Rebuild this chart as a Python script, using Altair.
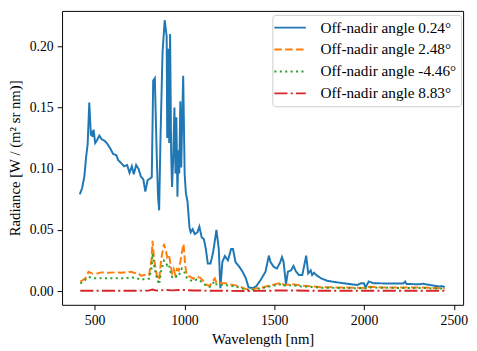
import altair as alt
import pandas as pd

labels = ["Off-nadir angle 0.24°", "Off-nadir angle 2.48°",
          "Off-nadir angle -4.46°", "Off-nadir angle 8.83°"]
colors = ["#1f77b4", "#ff7f0e", "#2ca02c", "#d62728"]
dashes = [[1, 0], [7.7, 3.3], [2.1, 3.4], [13.3, 3.3, 2.1, 3.3]]

wl_blue = [417, 430, 443, 452, 461, 470, 479, 484, 488, 494, 503, 512, 526, 539, 554, 567, 585,
           603, 621, 631, 645, 663, 681, 694, 707, 718, 731, 744, 758, 771, 782, 795, 809, 818,
           826, 835, 846, 853, 859, 867, 878, 890, 901, 904, 910, 915, 920, 926, 931, 937, 944,
           950, 955, 961, 966, 971, 977, 982, 988, 993, 1001, 1008, 1017, 1028, 1035, 1046, 1057,
           1072, 1083, 1096, 1108, 1119, 1130, 1145, 1160, 1178, 1191, 1200, 1211, 1225, 1242,
           1260, 1270, 1284, 1302, 1324, 1342, 1357, 1382, 1400, 1424, 1451, 1470, 1479, 1497,
           1515, 1534, 1543, 1552, 1565, 1576, 1594, 1607, 1620, 1638, 1656, 1667, 1678, 1689,
           1703, 1711, 1722, 1734, 1761, 1798, 1871, 1962, 1984, 1999, 2008, 2026, 2053, 2145,
           2218, 2229, 2236, 2309, 2327, 2382, 2418, 2436, 2449]
rad_blue = [0.079, 0.084, 0.094, 0.109, 0.120, 0.154, 0.127, 0.131, 0.126, 0.132, 0.121, 0.123,
            0.127, 0.124, 0.123, 0.121, 0.117, 0.112, 0.111, 0.107, 0.105, 0.102, 0.103, 0.0966,
            0.102, 0.0955, 0.103, 0.100, 0.0934, 0.0913, 0.0813, 0.0907, 0.092, 0.093, 0.172,
            0.174, 0.109, 0.077, 0.066, 0.128, 0.195, 0.2213, 0.208, 0.125, 0.198, 0.121, 0.210,
            0.112, 0.085, 0.107, 0.150, 0.096, 0.142, 0.077, 0.115, 0.096, 0.155, 0.101, 0.144,
            0.176, 0.096, 0.080, 0.073, 0.052, 0.048, 0.0506, 0.0466, 0.048, 0.0527, 0.0439,
            0.0425, 0.0345, 0.0225, 0.0225, 0.0319, 0.050, 0.0345, 0.0024, 0.0238, 0.0286,
            0.0251, 0.0345, 0.0345, 0.0238, 0.0206, 0.0158, 0.0104, 0.003, 0.0024, 0.004, 0.009,
            0.0158, 0.029, 0.0238, 0.0198, 0.0185, 0.0238, 0.0278, 0.0238, 0.0055, 0.0158, 0.017,
            0.0206, 0.0163, 0.0131, 0.0131, 0.021, 0.029, 0.0145, 0.017, 0.0131, 0.015, 0.0131,
            0.0104, 0.0083, 0.0067, 0.005, 0.0064, 0.0064, 0.003, 0.0078, 0.0064, 0.0062, 0.0062,
            0.0078, 0.0058, 0.0056, 0.006, 0.0046, 0.0038, 0.004, 0.0032]

wl_orange = [420, 434, 448, 466, 484, 502, 539, 575, 612, 650, 680, 703, 722, 740, 758, 776, 803,
             817, 822, 831, 846, 859, 871, 886, 895, 904, 913, 922, 931, 940, 949, 958, 968, 977,
             986, 995, 1004, 1013, 1031, 1050, 1068, 1086, 1105, 1123, 1141, 1169, 1178, 1196,
             1224, 1251, 1306, 1342, 1379, 1433, 1488, 1543, 1552, 1598, 1652, 1707, 1760, 1850,
             1950, 2000, 2030, 2100, 2200, 2300, 2400, 2449]
rad_orange = [0.0078, 0.009, 0.0104, 0.0158, 0.0145, 0.014, 0.0153, 0.0150, 0.0153, 0.0150,
              0.0155, 0.0158, 0.0148, 0.015, 0.0125, 0.0131, 0.013, 0.0265, 0.041, 0.026, 0.013,
              0.009, 0.0265, 0.0385, 0.034, 0.0278, 0.030, 0.0225, 0.0145, 0.018, 0.013, 0.018,
              0.0167, 0.0238, 0.0319, 0.0385, 0.021, 0.013, 0.0118, 0.010, 0.0118, 0.011, 0.0083,
              0.005, 0.0043, 0.0104, 0.007, 0.0065, 0.0065, 0.0056, 0.004, 0.0016, 0.0016, 0.003,
              0.005, 0.007, 0.005, 0.0056, 0.0045, 0.004, 0.0032, 0.003, 0.0028, 0.0025, 0.0035,
              0.003, 0.003, 0.003, 0.0025, 0.0022]

wl_green = wl_orange
rad_green = [0.0062, 0.0075, 0.0092, 0.0115, 0.011, 0.0105, 0.0106, 0.0105, 0.0106, 0.0105,
             0.0107, 0.0112, 0.0108, 0.0102, 0.0092, 0.0098, 0.0102, 0.019, 0.0305, 0.021, 0.0105,
             0.0055, 0.017, 0.025, 0.024, 0.021, 0.022, 0.016, 0.0115, 0.0104, 0.011, 0.0125,
             0.012, 0.016, 0.0185, 0.017, 0.014, 0.011, 0.009, 0.008, 0.0095, 0.0085, 0.0065,
             0.004, 0.0035, 0.008, 0.0055, 0.005, 0.005, 0.0045, 0.003, 0.001, 0.001, 0.0025,
             0.0042, 0.0058, 0.0045, 0.0048, 0.0038, 0.0034, 0.0028, 0.0026, 0.0024, 0.0022,
             0.003, 0.0027, 0.0026, 0.0026, 0.0022, 0.002]

wl_red = [420, 600, 800, 822, 846, 890, 931, 995, 1050, 1150, 1342, 1500, 1543, 1700, 2000, 2449]
rad_red = [0.0003, 0.0003, 0.0004, 0.0012, 0.0004, 0.0009, 0.0006, 0.001, 0.0005, 0.0003,
           0.0001, 0.0004, 0.0006, 0.0003, 0.0002, 0.0002]

rows = []
for lab, wls, vals in zip(labels, [wl_blue, wl_orange, wl_green, wl_red],
                          [rad_blue, rad_orange, rad_green, rad_red]):
    for w, v in zip(wls, vals):
        rows.append({"series": lab, "wl": w, "rad": v})
df = pd.DataFrame(rows)

FONT = "Liberation Serif"

legend = alt.Legend(
    title=None, orient="none", legendX=214, legendY=4,
    symbolType="M-1.375,0H2.625", symbolSize=256, symbolStrokeWidth=2,
    symbolFillColor="transparent",
    labelFont=FONT, labelFontSize=15.5, labelColor="black", labelLimit=300,
    strokeColor="#cccccc", fillColor="rgba(255,255,255,0.8)", cornerRadius=3,
    padding=4, rowPadding=4.3, labelOffset=27,
)

chart = alt.Chart(df).mark_line(strokeWidth=2, clip=True).encode(
    x=alt.X("wl:Q", scale=alt.Scale(domain=[318.5, 2551.5], nice=False, zero=False),
            axis=alt.Axis(title="Wavelength [nm]", values=[500, 1000, 1500, 2000, 2500],
                          format="d", titlePadding=4)),
    y=alt.Y("rad:Q", scale=alt.Scale(domain=[-0.0112, 0.2289], nice=False, zero=False),
            axis=alt.Axis(title="Radiance [W / (m² sr nm)]",
                          values=[0, 0.05, 0.10, 0.15, 0.20], format=".2f", titlePadding=7)),
    color=alt.Color("series:N", scale=alt.Scale(domain=labels, range=colors), legend=legend),
    strokeDash=alt.StrokeDash("series:N", scale=alt.Scale(domain=labels, range=dashes),
                              legend=legend),
    order=alt.Order("wl:Q"),
).properties(
    width=408, height=299,
    padding={"left": 55, "top": 0, "right": 6, "bottom": 42},
    autosize=alt.AutoSizeParams(type="none"),
).configure_view(
    stroke="black", strokeWidth=1,
).configure_axis(
    domain=False, grid=False, ticks=True, tickColor="black", tickSize=5, tickWidth=1,
    labelFont=FONT, labelFontSize=14, labelColor="black", labelPadding=4,
    titleFont=FONT, titleFontSize=15, titleFontWeight="normal", titleColor="black",
)

chart.save("out.html", embed_options={"renderer": "svg", "actions": False})
